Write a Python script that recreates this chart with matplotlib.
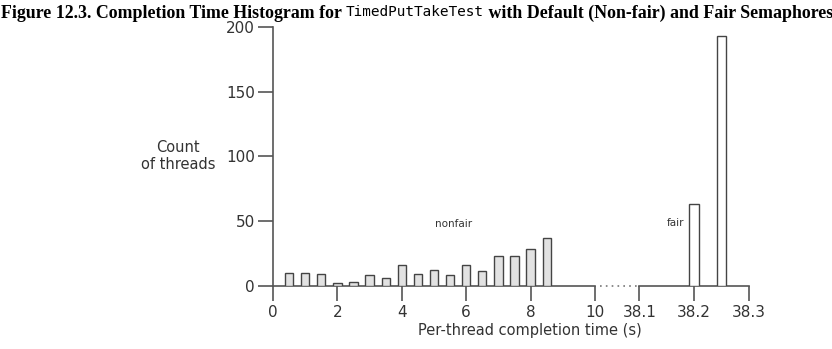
import matplotlib
matplotlib.use("Agg")
import matplotlib.pyplot as plt
from matplotlib.lines import Line2D

# nonfair semaphore: per-thread completion times 0.5 .. 8.5 s
nonfair_times = [0.5, 1.0, 1.5, 2.0, 2.5, 3.0, 3.5, 4.0, 4.5, 5.0, 5.5, 6.0, 6.5, 7.0, 7.5, 8.0, 8.5]
nonfair_counts = [10, 10, 9, 2, 3, 8, 6, 16, 9, 12, 8, 16, 11, 23, 23, 28, 37]

# fair semaphore: everything finishes around 38.2 s
fair_times = [38.2, 38.25]
fair_counts = [63, 193]

left_ticks = [0, 2, 4, 6, 8, 10]
right_ticks = [38.1, 38.2, 38.3]
right_ticklabels = ["38.1", "38.2", "38.3"]
y_ticks = [0, 50, 100, 150, 200]

axis_col = "#555555"
text_col = "#333333"

W, H = 832, 349
fig = plt.figure(figsize=(W / 100, H / 100), dpi=100)

y0 = (H - 285.7) / H
hgt = (285.7 - 27) / H
ax = fig.add_axes([273 / W, y0, (595 - 273) / W, hgt])
ax2 = fig.add_axes([639.5 / W, y0, (748.7 - 639.5) / W, hgt])

ax.bar(nonfair_times, nonfair_counts, width=0.26, color="#e2e2e2",
       edgecolor="#444444", linewidth=1.0, zorder=3)
ax2.bar(fair_times, fair_counts, width=0.017, color="white",
        edgecolor="#444444", linewidth=1.0, zorder=3)

ax.set_xlim(0, 10)
ax.set_ylim(0, 200)
ax2.set_xlim(38.1, 38.3)
ax2.set_ylim(0, 200)

for a in (ax, ax2):
    a.patch.set_visible(False)
    a.spines["top"].set_visible(False)
    a.spines["right"].set_visible(False)
    a.spines["bottom"].set_color(axis_col)
    a.spines["bottom"].set_linewidth(1.2)
    a.tick_params(axis="x", direction="out", length=11, width=1.2,
                  color=axis_col, labelsize=11, labelcolor=text_col, pad=3)

ax.spines["left"].set_color(axis_col)
ax.spines["left"].set_linewidth(1.2)
ax.set_xticks(left_ticks)
ax.set_yticks(y_ticks)
ax.tick_params(axis="y", direction="out", length=11, width=1.2,
               color=axis_col, labelsize=11, labelcolor=text_col, pad=2)

ax2.spines["left"].set_visible(False)
ax2.set_yticks([])
ax2.set_xticks(right_ticks)
ax2.set_xticklabels(right_ticklabels)

ax.text(5.6, 48, "nonfair", fontsize=7.5, color=text_col, ha="center", va="center")
ax2.text(38.166, 48.5, "fair", fontsize=7.5, color=text_col, ha="center", va="center")

# dotted gap between the two axis parts
fig.add_artist(Line2D([600 / W, 637 / W], [y0, y0], transform=fig.transFigure,
                      linestyle=(0, (1, 2.5)), color="#777777", linewidth=1.2))

fig.text(178 / W, 1 - 156 / H, "Count\nof threads", fontsize=10.5, color=text_col,
         ha="center", va="center", linespacing=1.1)
fig.text(530 / W, 1 - 331 / H, "Per-thread completion time (s)", fontsize=10.5,
         color=text_col, ha="center", va="center")

# title in three runs: bold serif, monospace class name, bold serif
renderer = fig.canvas.get_renderer()
parts = [
    ("Figure 12.3. Completion Time Histogram for ", dict(family="Liberation Serif", weight="bold", size=12.85)),
    ("TimedPutTakeTest", dict(family="DejaVu Sans Mono", weight="normal", size=10.4)),
    (" with Default (Non-fair) and Fair Semaphores", dict(family="Liberation Serif", weight="bold", size=12.85)),
]
x = 1 / W
ty = 1 - 11 / H
for s, kw in parts:
    t = fig.text(x, ty, s, ha="left", va="center_baseline", color="black", **kw)
    bb = t.get_window_extent(renderer)
    x += bb.width / W

fig.savefig("out.png", dpi=100)
